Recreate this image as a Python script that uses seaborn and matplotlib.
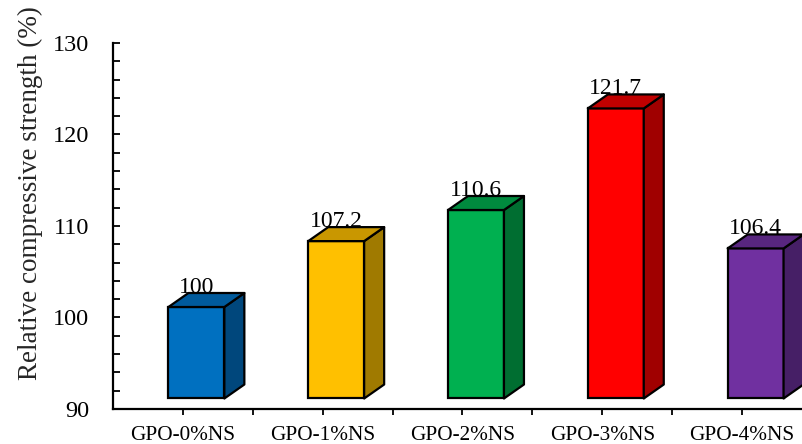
import matplotlib
matplotlib.use("Agg")
import matplotlib.pyplot as plt
from matplotlib.patches import Polygon
from matplotlib.transforms import ScaledTranslation
import seaborn as sns
import pandas as pd

# Relative compressive strength of the geopolymer mixes
categories = ["GPO-0%NS", "GPO-1%NS", "GPO-2%NS", "GPO-3%NS", "GPO-4%NS"]
strength = [100, 107.2, 110.6, 121.7, 106.4]

front_colors = ["#0070C0", "#FFC000", "#00B050", "#FF0000", "#7030A0"]
top_colors = ["#005A9C", "#C99700", "#008A3E", "#C00000", "#58267F"]
side_colors = ["#00477C", "#A07A00", "#006E31", "#A00000", "#461F66"]

sns.set_style("ticks")
plt.rcParams["font.family"] = ["Liberation Serif", "DejaVu Serif"]

DPI = 100
fig = plt.figure(figsize=(8.03, 4.44), dpi=DPI)
ax = fig.add_axes([113 / 803, 35 / 444, 699 / 803, 366 / 444])

df = pd.DataFrame({"mix": categories, "strength": strength})
sns.barplot(data=df, x="mix", y="strength", hue="mix", palette=front_colors,
            width=0.4, edgecolor="black", linewidth=1.6, legend=False,
            saturation=1, ax=ax, zorder=3)

ax.set_xlim(-0.5, 4.5)
ax.set_ylim(90, 130)
base = 90

# pseudo-3D prism geometry (pixels)
shift_x, shift_y = 13.5, 10.5   # front face offset
depth_x, depth_y = 20.0, 14.0   # extrusion depth

bbox = ax.get_position()
ax_w_px = bbox.width * fig.get_figwidth() * DPI
ax_h_px = bbox.height * fig.get_figheight() * DPI
ddx = depth_x / (ax_w_px / 5.0)
ddy = depth_y / (ax_h_px / 40.0)

offset = ax.transData + ScaledTranslation(shift_x / DPI, shift_y / DPI, fig.dpi_scale_trans)
label_tr = ax.transData + ScaledTranslation(shift_x / DPI, (shift_y + depth_y) / DPI,
                                            fig.dpi_scale_trans)

for i, (patch, val) in enumerate(zip(ax.patches, strength)):
    patch.set_y(base)
    patch.set_height(val - base)
    patch.set_transform(offset)
    patch.set_clip_on(False)
    x0 = patch.get_x()
    x1 = x0 + patch.get_width()
    side = Polygon([(x1, base), (x1, val), (x1 + ddx, val + ddy), (x1 + ddx, base + ddy)],
                   closed=True, facecolor=side_colors[i], edgecolor="black",
                   linewidth=1.6, joinstyle="round", transform=offset, clip_on=False, zorder=3)
    top = Polygon([(x0, val), (x1, val), (x1 + ddx, val + ddy), (x0 + ddx, val + ddy)],
                  closed=True, facecolor=top_colors[i], edgecolor="black",
                  linewidth=1.6, joinstyle="round", transform=offset, clip_on=False, zorder=3)
    ax.add_patch(side)
    ax.add_patch(top)
    ax.text((x0 + x1) / 2, val, f"{val:g}", ha="center", va="baseline",
            fontsize=17, color="black", transform=label_tr, zorder=2, clip_on=False)

ax.set_yticks([90, 100, 110, 120, 130])
ax.set_yticks(range(90, 131, 2), minor=True)
ax.set_xticks(range(len(categories)))
ax.set_xticklabels(categories)
ax.set_xticks([0.5 + k for k in range(len(categories))], minor=True)

ax.tick_params(axis="y", which="both", direction="in", length=5, width=1.3,
               labelsize=17.5, pad=17, colors="black")
ax.tick_params(axis="x", which="both", direction="out", length=4, width=1.3,
               labelsize=15.3, pad=8, colors="black")

sns.despine(ax=ax)
for sp in ("left", "bottom"):
    ax.spines[sp].set_linewidth(1.6)
    ax.spines[sp].set_color("black")

ax.set_xlabel("")
ax.set_ylabel("Relative compressive strength (%)", fontsize=19.5)
ax.yaxis.set_label_coords(-0.100, 0.59)

fig.savefig("out.png", dpi=DPI)
